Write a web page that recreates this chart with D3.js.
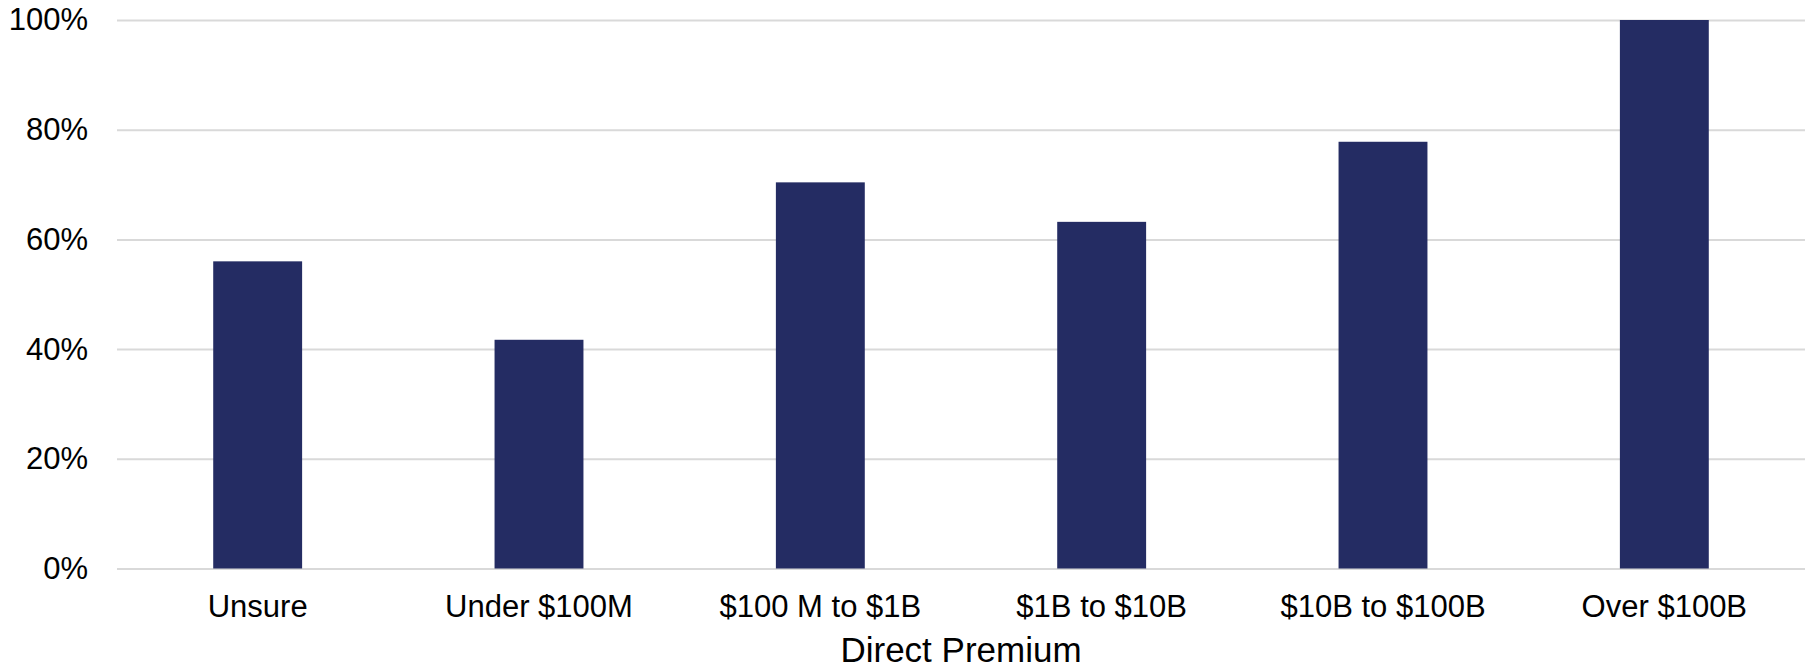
<!DOCTYPE html>
<html>
<head>
<meta charset="utf-8">
<script src="https://cdn.jsdelivr.net/npm/d3@7"></script>
<style>
  html, body { margin: 0; padding: 0; background: #ffffff; }
  svg { display: block; }
  text { font-family: "Liberation Sans", Arial, sans-serif; fill: #000; }
</style>
</head>
<body>
<svg id="chart" width="1816" height="669"></svg>
<script>
// Share of respondents by direct premium band
const categories = ["Unsure", "Under $100M", "$100 M to $1B", "$1B to $10B", "$10B to $100B", "Over $100B"];
const values = [0.56, 0.417, 0.704, 0.632, 0.778, 1.0];
const yTicks = [0, 0.2, 0.4, 0.6, 0.8, 1.0];
const xTitle = "Direct Premium";

const W = 1816, H = 669;
const margin = { top: 20, right: 11, bottom: 100.5, left: 117 };
const innerW = W - margin.left - margin.right;
const innerH = H - margin.top - margin.bottom;

const svg = d3.select("#chart");
const g = svg.append("g").attr("transform", `translate(${margin.left},${margin.top})`);

const x = d3.scaleBand().domain(categories).range([0, innerW]).paddingInner(0.684).paddingOuter(0.342);
const y = d3.scaleLinear().domain([0, 1]).range([innerH, 0]);

// Horizontal gridlines with percentage labels
const yAxis = d3.axisLeft(y).tickValues(yTicks).tickSize(-innerW).tickPadding(29).tickFormat(d3.format(".0%"));
g.append("g").call(yAxis).call(a => {
  a.select(".domain").remove();
  a.selectAll(".tick line").attr("stroke", "#d9d9d9").attr("stroke-width", 2);
  a.selectAll(".tick text").attr("font-size", 31).attr("font-family", "Liberation Sans, Arial, sans-serif").attr("fill", "#000");
});

// Bars
g.selectAll("rect.bar").data(values).join("rect")
  .attr("class", "bar")
  .attr("x", (d, i) => x(categories[i]))
  .attr("width", x.bandwidth())
  .attr("y", d => y(d))
  .attr("height", d => innerH - y(d))
  .attr("fill", "#242c63");

// Category axis
const xAxis = d3.axisBottom(x).tickSize(0).tickPadding(26);
g.append("g").attr("transform", `translate(0,${innerH})`).call(xAxis).call(a => {
  a.select(".domain").remove();
  a.selectAll(".tick text").attr("font-size", 31).attr("font-family", "Liberation Sans, Arial, sans-serif").attr("fill", "#000");
});

// Axis title
g.append("text")
  .attr("x", innerW / 2)
  .attr("y", innerH + 93)
  .attr("text-anchor", "middle")
  .attr("font-size", 35)
  .text(xTitle);
</script>
</body>
</html>
